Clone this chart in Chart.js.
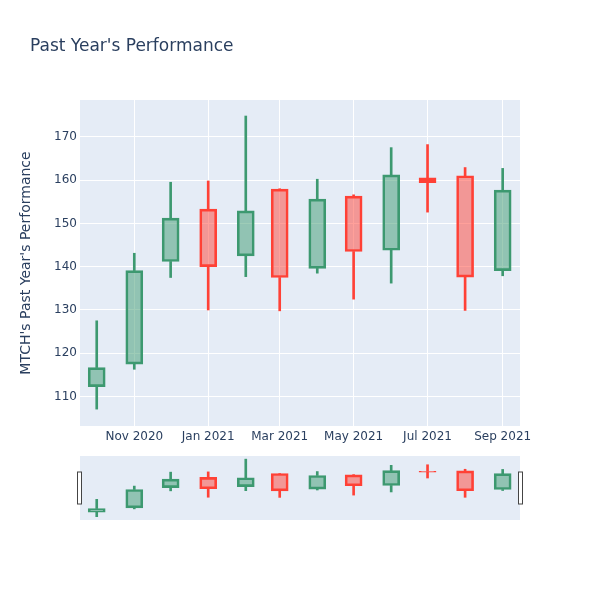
<!DOCTYPE html>
<html><head><meta charset="utf-8">
<script src="https://cdn.jsdelivr.net/npm/chart.js@4.4.1/dist/chart.umd.min.js"></script>
<style>
html,body{margin:0;padding:0;background:#fff;}
#wrap{position:relative;width:600px;height:600px;overflow:hidden;}
#main{position:absolute;left:0;top:0;width:600px;height:450px;}
#slider{position:absolute;left:0;top:456px;width:600px;height:64px;}
</style></head><body>
<div id="wrap"><div id="main"><canvas id="c1"></canvas></div><div id="slider"><canvas id="c2"></canvas></div></div>
<script>
const dates = ['2020-10-01','2020-11-01','2020-12-01','2021-01-01','2021-02-01','2021-03-01','2021-04-01','2021-05-01','2021-06-01','2021-07-01','2021-08-01','2021-09-01'];
const openV  = [112.3,117.5,141.2,153.3,142.5,157.9,139.6,156.3,143.8,160.5,161.0,139.1];
const highV  = [127.5,143.1,159.5,159.8,174.8,158.0,160.2,156.6,167.5,168.2,162.9,162.7];
const lowV   = [107.1,116.3,137.5,130.0,137.7,129.8,138.5,132.5,136.2,152.6,129.9,137.9];
const closeV = [116.7,139.1,151.2,140.0,152.9,137.5,155.6,143.5,161.2,159.4,137.6,157.7];
const yTicks = [110,120,130,140,150,160,170];
const xTickDates = ['2020-11-01','2021-01-01','2021-03-01','2021-05-01','2021-07-01','2021-09-01'];
const xTickLabels = ['Nov 2020','Jan 2021','Mar 2021','May 2021','Jul 2021','Sep 2021'];
const titleText = "Past Year's Performance";
const yTitleText = "MTCH's Past Year's Performance";

const FONT = '"DejaVu Sans", sans-serif';
const TXT = '#2a3f5f';
const UP = '#3D9970', DOWN = '#FF4136';
const UPF = 'rgba(61,153,112,0.5)', DOWNF = 'rgba(255,65,54,0.5)';
const day = s => Date.UTC(+s.slice(0,4), +s.slice(5,7)-1, +s.slice(8,10)) / 86400000;
const xs = dates.map(day);
const isUp = openV.map((o,i) => closeV[i] >= o);
const lineCol = isUp.map(u => u ? UP : DOWN);
const fillCol = isUp.map(u => u ? UPF : DOWNF);
const xMin = xs[0] - 13.8, xMax = xs[xs.length-1] + 14.3;
const yMin = 103.2, yMax = 178.5;

function makeDatasets(){
  return [
    {data: xs.map((x,i)=>({x, y:[Math.max(openV[i],closeV[i]), highV[i]]})), backgroundColor: lineCol, borderWidth:0, barThickness:2, grouped:false, order:3},
    {data: xs.map((x,i)=>({x, y:[lowV[i], Math.min(openV[i],closeV[i])]})), backgroundColor: lineCol, borderWidth:0, barThickness:2, grouped:false, order:2},
    {data: xs.map((x,i)=>({x, y:[openV[i], closeV[i]]})), backgroundColor: fillCol, borderColor: lineCol, borderWidth:2, borderSkipped:false, barThickness:17, grouped:false, order:1}
  ];
}

const bgPlugin = {id:'bg', beforeDraw(c){const a=c.chartArea, x=c.ctx; x.save(); x.fillStyle='#E5ECF6'; x.fillRect(a.left,a.top,a.right-a.left,a.bottom-a.top); x.restore();}};
const titlePlugin = {id:'ttl', afterDraw(c){const x=c.ctx; x.save(); x.font='17px '+FONT; x.fillStyle=TXT; x.textBaseline='alphabetic'; x.textAlign='left'; x.fillText(titleText,30,50.5); x.restore();}};
const handlePlugin = {id:'hdl', afterDraw(c){const a=c.chartArea, x=c.ctx; x.save(); x.fillStyle='#fff'; x.strokeStyle='#444'; x.lineWidth=1;
  const hy=(a.top+a.bottom)/2-16; [a.left-2.5, a.right-1.5].forEach(px=>{x.fillRect(px,hy,4,32); x.strokeRect(px,hy,4,32);}); x.restore();}};

new Chart(document.getElementById('c1'), {
  type:'bar',
  data:{datasets: makeDatasets()},
  options:{
    responsive:true, maintainAspectRatio:false, animation:false,
    layout:{padding:{top:100,right:80,left:0,bottom:0}},
    plugins:{legend:{display:false}, tooltip:{enabled:false}, title:{display:false}},
    scales:{
      x:{type:'linear', min:xMin, max:xMax, offset:false,
        afterBuildTicks:s=>{s.ticks = xTickDates.map(d=>({value:day(d)}));},
        ticks:{autoSkip:false, maxRotation:0, color:TXT, font:{family:FONT,size:12}, padding:4,
          callback:v=>{const k=xTickDates.findIndex(d=>day(d)===v); return k>=0?xTickLabels[k]:'';}},
        grid:{color:'#fff', lineWidth:1, drawTicks:false, offset:false}, border:{display:false},
        afterFit:s=>{s.height=24;}},
      y:{type:'linear', min:yMin, max:yMax,
        afterBuildTicks:s=>{s.ticks = yTicks.map(v=>({value:v}));},
        ticks:{color:TXT, font:{family:FONT,size:12}, padding:3},
        grid:{color:'#fff', lineWidth:1, drawTicks:false}, border:{display:false},
        title:{display:true, text:yTitleText, color:TXT, font:{family:FONT,size:14}, padding:{top:18,bottom:0}},
        afterFit:s=>{s.width=80;}}
    }
  },
  plugins:[bgPlugin,titlePlugin]
});

new Chart(document.getElementById('c2'), {
  type:'bar',
  data:{datasets: makeDatasets()},
  options:{
    responsive:true, maintainAspectRatio:false, animation:false,
    layout:{padding:{top:0,right:80,left:80,bottom:0}},
    plugins:{legend:{display:false}, tooltip:{enabled:false}},
    scales:{
      x:{type:'linear', min:xMin, max:xMax, offset:false, display:false},
      y:{type:'linear', min:yMin, max:yMax, display:false}
    }
  },
  plugins:[bgPlugin,handlePlugin]
});
</script>
</body></html>
